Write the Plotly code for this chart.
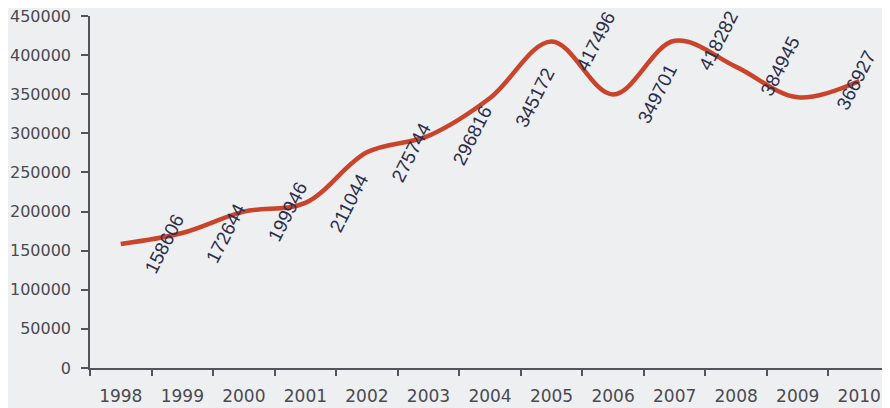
import plotly.graph_objects as go

years = ["1998", "1999", "2000", "2001", "2002", "2003", "2004",
         "2005", "2006", "2007", "2008", "2009", "2010"]
values = [158606, 172644, 199946, 211044, 275744, 296816, 345172,
          417496, 349701, 418282, 384945, 346000, 366927]
# data label text shown in the reference (2009 has no visible label)
label_texts = ["158606", "172644", "199946", "211044", "275744", "296816",
               "345172", "417496", "349701", "418282", "384945", None, "366927"]
y_ticks = [0, 50000, 100000, 150000, 200000, 250000, 300000, 350000, 400000, 450000]

BG = "#eeeff0"
AXIS = "#55535a"

fig = go.Figure()
fig.add_trace(go.Scatter(
    x=years, y=values, mode="lines",
    line=dict(color="#c9442b", width=4.5, shape="spline", smoothing=1.0),
    hoverinfo="x+y",
))

annotations = []
for i, (v, t) in enumerate(zip(values, label_texts)):
    if t is None:
        continue
    shift = 44 if i < len(years) - 1 else -3
    annotations.append(dict(
        x=i, y=v, xref="x", yref="y", text=t, showarrow=False, textangle=-63,
        xshift=shift, yshift=0,
        font=dict(family="Liberation Sans", size=19, color="#2c2f4c"),
    ))

fig.update_layout(
    width=882, height=400,
    margin=dict(l=82, r=0, t=8, b=40),
    paper_bgcolor=BG, plot_bgcolor=BG,
    showlegend=False,
    annotations=annotations,
    xaxis=dict(
        type="category", tickson="boundaries", ticks="outside", ticklen=6,
        tickcolor=AXIS, tickwidth=1.5, showline=True, linecolor=AXIS, linewidth=1.5,
        showgrid=False, zeroline=False,
        tickfont=dict(family="DejaVu Sans", size=17, color="#4a4a52"),
        ticklabelstandoff=12, ticklabeloverflow="allow",
        range=[-0.5, 12.5],
    ),
    yaxis=dict(
        range=[0, 450000], tickvals=y_ticks, ticktext=[str(v) for v in y_ticks],
        ticks="outside", ticklen=7, tickcolor=AXIS, tickwidth=1.5,
        showline=True, linecolor=AXIS, linewidth=1.5,
        showgrid=False, zeroline=False,
        tickfont=dict(family="DejaVu Sans", size=16, color="#4a4a52"),
        ticklabelstandoff=7, ticklabeloverflow="allow",
    ),
)
fig.write_html("out.html")
